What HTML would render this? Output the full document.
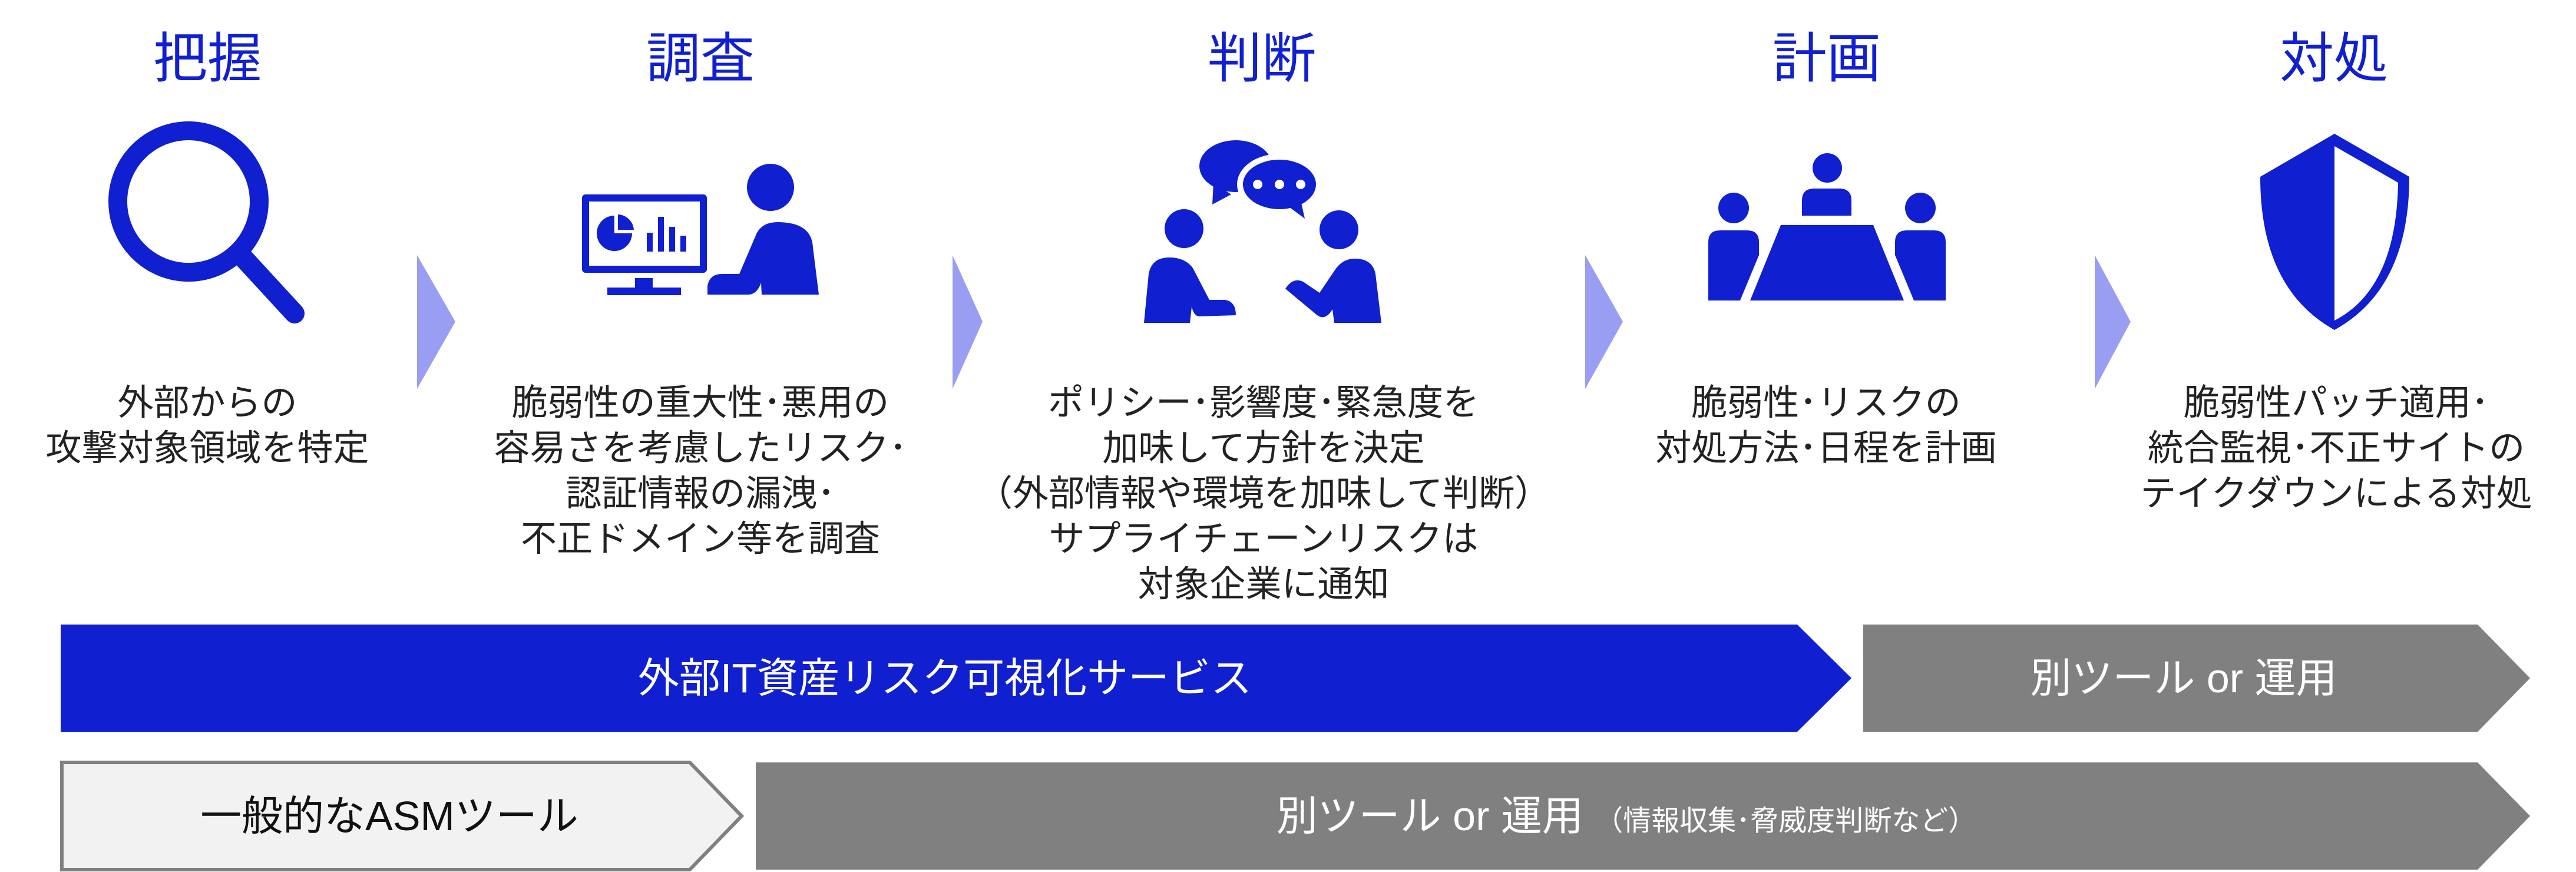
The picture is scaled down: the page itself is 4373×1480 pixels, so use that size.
<!DOCTYPE html>
<html><head><meta charset="utf-8"><style>
html,body{margin:0;padding:0;background:#fff;}
body{width:4373px;height:1480px;position:relative;overflow:hidden;font-family:"Liberation Sans","Noto Sans CJK JP",sans-serif;}
.t{position:absolute;text-align:center;white-space:nowrap;}
.title{color:#1020d0;font-size:92px;font-weight:400;line-height:100px;top:42px;width:600px;font-family:"Noto Sans CJK JP",sans-serif;}
.desc{color:#222;font-size:61px;line-height:77px;top:645px;width:1000px;}
.bar{color:#fff;font-size:70px;line-height:80px;}
</style></head><body>
<svg width="4373" height="1480" style="position:absolute;left:0;top:0">
<g fill="#9a9ef2">
<polygon points="708,433 773,546 708,660"/>
<polygon points="1617,433 1668,546 1617,660"/>
<polygon points="2691,433 2755,546 2691,660"/>
<polygon points="3556,433 3617,546 3556,660"/>
</g>
<circle cx="320" cy="342" r="120" fill="none" stroke="#101fd0" stroke-width="32"/>
<line x1="408" y1="432" x2="500" y2="532" stroke="#101fd0" stroke-width="34" stroke-linecap="round"/>
<g fill="#101fd0">
<rect x="988" y="330" width="212" height="133" rx="6"/>
<rect x="1000" y="342" width="188" height="109" fill="#fff"/>
<rect x="1078" y="472" width="30" height="18"/>
<rect x="1031" y="488" width="125" height="13"/>
<path d="M1043,366 A30,30 0 1,0 1073,396 L1043,396 Z"/>
<path d="M1049,364 L1049,390 L1076,390 A28,28 0 0,0 1049,364 Z"/>
<rect x="1098" y="395" width="10" height="32"/><rect x="1117" y="368" width="10" height="59"/><rect x="1136" y="385" width="10" height="42"/><rect x="1155" y="400" width="10" height="27"/>
<ellipse cx="1308" cy="318" rx="40" ry="40"/>
<path d="M1201,500 L1201,485 Q1205,465 1225,465 L1255,465 L1285,395 Q1295,377 1320,377 Q1378,377 1380,420 L1390,500 L1293,500 L1292,480 Q1285,500 1270,500 Z"/>
</g>
<g fill="#101fd0">
<ellipse cx="2098" cy="282" rx="62" ry="44"/>
<polygon points="2060,310 2058,347 2090,330"/>
<ellipse cx="2172" cy="313" rx="72" ry="52" fill="#fff"/>
<ellipse cx="2172" cy="313" rx="62" ry="42"/>
<polygon points="2180,345 2215,371 2208,340"/>
<circle cx="2135" cy="313" r="8" fill="#fff"/><circle cx="2172" cy="313" r="8" fill="#fff"/><circle cx="2208" cy="313" r="8" fill="#fff"/>
<circle cx="2010" cy="388" r="33"/>
<path d="M1942,548 L1950,465 Q1955,437 1985,437 Q2012,437 2025,455 L2053,509 L2080,509 Q2098,512 2098,535 L2035,537 Q2027,536 2023,521 L2020,548 Z"/>
<circle cx="2273" cy="390" r="33"/>
<path d="M2345,548 L2335,465 Q2330,439 2300,439 Q2278,439 2265,460 L2240,497 L2212,478 Q2195,470 2182,490 L2236,535 Q2250,545 2262,525 L2265,548 Z"/>
</g>
<g fill="#101fd0">
<circle cx="3102" cy="285" r="25"/>
<path d="M3059,366 L3059,340 Q3059,320 3080,320 L3122,320 Q3143,320 3143,340 L3143,366 Z"/>
<polygon points="3023,382 3180,382 3232,510 2971,510"/>
<circle cx="2943" cy="353" r="26"/>
<path d="M2900,510 L2900,411 Q2900,391 2920,391 L2966,391 Q2986,391 2986,411 L2986,433 L2954,510 Z"/>
<circle cx="3260" cy="353" r="26"/>
<path d="M3303,510 L3303,411 Q3303,391 3283,391 L3237,391 Q3217,391 3217,411 L3217,433 L3249,510 Z"/>
</g>
<path d="M3963,227 L3837,300 Q3837,490 3963,560 Q4090,490 4090,300 Z" fill="#101fd0"/>
<path d="M3963,248 L4071,310 Q4068,490 3963,544 Z" fill="#fff"/>
<polygon points="103,1060 3051,1060 3143,1151 3051,1242 103,1242" fill="#101fd0"/>
<polygon points="3163,1060 4206,1060 4295,1151 4206,1242 3163,1242" fill="#808080"/>
<polygon points="105,1294 1171,1294 1259,1385 1171,1476 105,1476" fill="#f2f2f2" stroke="#808080" stroke-width="6"/>
<polygon points="1283,1294 4206,1294 4295,1385 4206,1476 1283,1476" fill="#808080"/>
</svg>
<div class="t title" style="left:52px">把握</div>
<div class="t title" style="left:889px">調査</div>
<div class="t title" style="left:1842px">判断</div>
<div class="t title" style="left:2801px">計画</div>
<div class="t title" style="left:3662px">対処</div>
<div class="t desc" style="left:-148px">外部からの<br>攻撃対象領域を特定</div>
<div class="t desc" style="left:689px">脆弱性の重大性･悪用の<br>容易さを考慮したリスク･<br>認証情報の漏洩･<br>不正ドメイン等を調査</div>
<div class="t desc" style="left:1645px">ポリシー･影響度･緊急度を<br>加味して方針を決定<br>（外部情報や環境を加味して判断）<br>サプライチェーンリスクは<br>対象企業に通知</div>
<div class="t desc" style="left:2600px">脆弱性･リスクの<br>対処方法･日程を計画</div>
<div class="t desc" style="left:3466px">脆弱性パッチ適用･<br>統合監視･不正サイトの<br>テイクダウンによる対処</div>
<div class="t bar" style="left:604px;width:2000px;top:1111px">外部IT資産リスク可視化サービス</div>
<div class="t bar" style="left:3207px;width:1000px;top:1111px">別ツール or 運用</div>
<div class="t bar" style="left:161px;width:1000px;top:1345px;color:#111">一般的なASMツール</div>
<div class="t bar" style="left:1761px;width:2000px;top:1345px">別ツール or 運用 <span style="font-size:48px">（情報収集･脅威度判断など）</span></div>
</body></html>
